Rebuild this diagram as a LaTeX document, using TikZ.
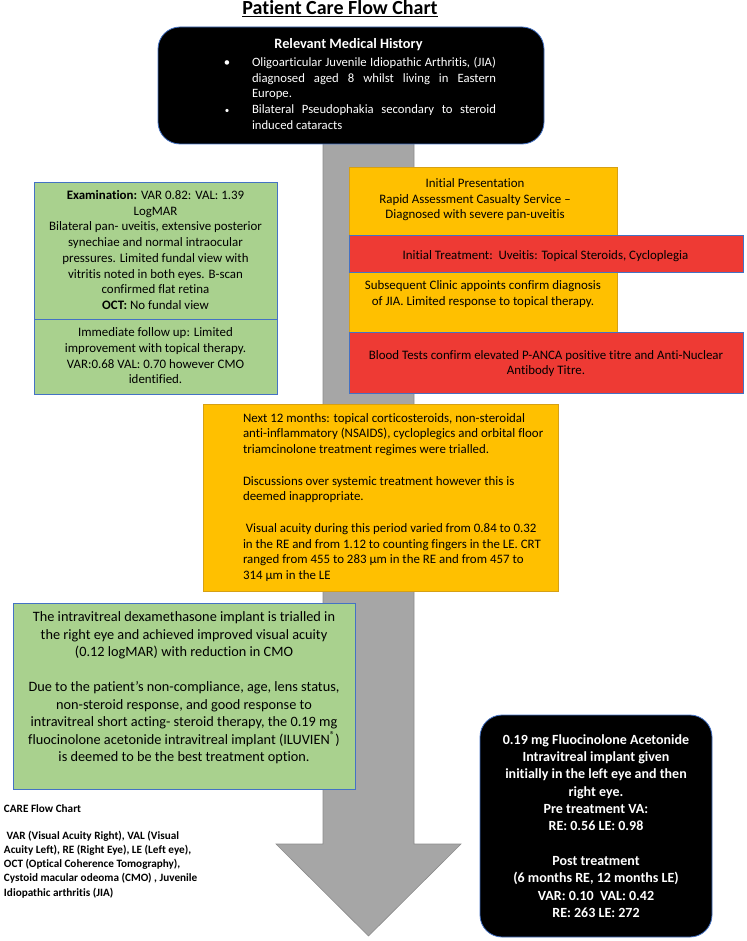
\documentclass[tikz,border=0pt]{standalone}
\usepackage{fontspec}
\setmainfont{Carlito}[Ligatures=NoCommon]
\definecolor{cgreen}{RGB}{169,209,142}
\definecolor{corange}{RGB}{255,192,0}
\definecolor{cred}{RGB}{238,58,52}
\definecolor{cblue}{RGB}{68,114,196}
\definecolor{cgold}{RGB}{214,160,20}
\definecolor{cgray}{RGB}{166,166,166}
\definecolor{cgraydk}{RGB}{140,140,140}
\newcommand{\fbody}{\fontsize{12.9pt}{15.75pt}\selectfont}
\newcommand{\fhist}{\fontsize{12.7pt}{15.6pt}\selectfont}
\newcommand{\fhead}{\bfseries\fontsize{14.3pt}{17pt}\selectfont}
\newcommand{\fbig}{\fontsize{14.3pt}{17.5pt}\selectfont}
\newcommand{\fblk}{\bfseries\fontsize{14pt}{17.37pt}\selectfont}
\newcommand{\fnote}{\bfseries\fontsize{11.2pt}{14.2pt}\selectfont}
\newcommand{\ftitle}{\bfseries\fontsize{20pt}{24pt}\selectfont}
\newcommand{\tstrut}{\rule{0pt}{12pt}}
\begin{document}
\begin{tikzpicture}[x=1pt,y=-1pt,
  box/.style={draw, line width=0.8pt, inner sep=0pt, outer sep=0pt},
  greenbox/.style={box, fill=cgreen, draw=cblue},
  orangebox/.style={box, fill=corange, draw=cgold},
  redbox/.style={box, fill=cred, draw=cblue},
  blackbox/.style={box, fill=black, draw=cblue, rounded corners=22pt},
  txt/.style={inner sep=0pt, outer sep=0pt, font=\fbody, text=black},
  bigarrow/.style={fill=cgray, draw=cgraydk, line width=0.6pt}]
\useasboundingbox (0,0) rectangle (746,941);
% big arrow
\path[bigarrow] (323,140) -- (414,140) -- (414,844) -- (461,844) -- (368.5,936) -- (276,844) -- (323,844) -- cycle;
% title
\node[txt, font=\ftitle, anchor=base] (title) at (340,15) {\underline{Patient Care Flow Chart}};
% history box
\node[blackbox, minimum width=386pt, minimum height=117pt] (hist) at (351,85.5) {};
\node[txt, font=\fhead, text=white, anchor=base] (histhead) at (348.5,49) {Relevant Medical History};
\node[txt, font=\fhist, text=white, anchor=base] (bul1) at (227,66.7) {•};
\node[txt, font=\fontsize{9pt}{10pt}\selectfont, text=white, anchor=base] (bul2) at (227,113.5) {•};
\node[txt, font=\fhist, text=white, anchor=north west, text width=244pt, align=justify] (histtxt) at (252,54.7)
  {\tstrut Oligoarticular Juvenile Idiopathic Arthritis, (JIA)\linebreak diagnosed aged 8 whilst living in Eastern\linebreak Europe.\par
   Bilateral Pseudophakia secondary to steroid\linebreak induced cataracts};
% left green boxes
\node[greenbox, minimum width=243pt, minimum height=137pt] (exam) at (155.5,250.5) {};
\node[txt, anchor=north, align=center] (examtxt) at (155.5,187.3)
  {\tstrut\textbf{Examination:} VAR 0.82: VAL: 1.39\\ LogMAR\\ Bilateral pan- uveitis, extensive posterior\\ synechiae and normal intraocular\\ pressures. Limited fundal view with\\ vitritis noted in both eyes. B-scan\\ confirmed flat retina\\ \textbf{OCT:} No fundal view};
\node[greenbox, minimum width=243pt, minimum height=75pt] (follow) at (155.5,356.5) {};
\node[txt, anchor=north, align=center] (followtxt) at (155.5,324.7)
  {\tstrut Immediate follow up: Limited\\ improvement with topical therapy.\\ VAR:0.68 VAL: 0.70 however CMO\\ identified.};
% right stack
\node[orangebox, minimum width=268pt, minimum height=68pt] (pres) at (483,201) {};
\node[txt, anchor=north, align=center] (prestxt) at (475,175.3)
  {\tstrut Initial Presentation\\ Rapid Assessment Casualty Service –\\ Diagnosed with severe pan-uveitis};
\node[orangebox, minimum width=268pt, minimum height=60pt] (clinic) at (483,302) {};
\node[txt, anchor=north, align=center] (clinictxt) at (483,277.3)
  {\tstrut Subsequent Clinic appoints confirm diagnosis\\ of JIA. Limited response to topical therapy.};
\node[redbox, minimum width=394pt, minimum height=37pt] (treat) at (546,253.5) {};
\node[txt, anchor=base] (treattxt) at (545.5,259) {Initial Treatment:\ \ Uveitis: Topical Steroids, Cycloplegia};
\node[redbox, minimum width=394pt, minimum height=61pt] (blood) at (546,362.5) {};
\node[txt, anchor=north, align=center] (bloodtxt) at (546,347)
  {\tstrut Blood Tests confirm elevated P-ANCA positive titre and Anti-Nuclear\\ Antibody Titre.};
% middle orange
\node[orangebox, minimum width=355pt, minimum height=187pt] (months) at (380.5,497.5) {};
\node[txt, anchor=north west, align=left] (monthstxt) at (243,410)
  {\tstrut Next 12 months: topical corticosteroids, non-steroidal\\ anti-inflammatory (NSAIDS), cycloplegics and orbital floor\\ triamcinolone treatment regimes were trialled.\\[15.75pt]
   Discussions over systemic treatment however this is\\ deemed inappropriate.\\[15.75pt]
   \hspace*{2.8pt}Visual acuity during this period varied from 0.84 to 0.32\\ in the RE and from 1.12 to counting fingers in the LE. CRT\\ ranged from 455 to 283 µm in the RE and from 457 to\\ 314 µm in the LE};
% bottom green
\node[greenbox, minimum width=342pt, minimum height=186pt] (dex) at (184,696) {};
\node[txt, font=\fbig, anchor=north, align=center] (dextxt) at (184,609.7)
  {\tstrut The intravitreal dexamethasone implant is trialled in\\ the right eye and achieved improved visual acuity\\ (0.12 logMAR) with reduction in CMO\\[17.5pt]
   Due to the patient’s non-compliance, age, lens status,\\ non-steroid response, and good response to\\ intravitreal short acting- steroid therapy, the 0.19 mg\\ fluocinolone acetonide intravitreal implant (ILUVIEN\textsuperscript{®})\\ is deemed to be the best treatment option.};
% notes
\node[txt, font=\fnote, anchor=base west] (caretitle) at (4,812.7) {CARE Flow Chart};
\node[txt, font=\fnote, anchor=north west, align=left] (notes) at (4,827.3)
  {\tstrut\hspace*{2.5pt}VAR (Visual Acuity Right), VAL (Visual\\ Acuity Left), RE (Right Eye), LE (Left eye),\\ OCT (Optical Coherence Tomography),\\ Cystoid macular odeoma (CMO) , Juvenile\\ Idiopathic arthritis (JIA)};
% bottom black
\node[blackbox, minimum width=232pt, minimum height=222pt] (fluo) at (596,826) {};
\node[txt, font=\fblk, text=white, anchor=north, align=center] (fluotxt) at (596,732)
  {\tstrut 0.19 mg Fluocinolone Acetonide\\ Intravitreal implant given\\ initially in the left eye and then\\ right eye.\\ Pre treatment VA:\\ RE: 0.56 LE: 0.98\\[17.37pt]
   Post treatment\\ (6 months RE, 12 months LE)\\ VAR: 0.10\ \ VAL: 0.42\\ RE: 263 LE: 272};
\end{tikzpicture}
\end{document}
